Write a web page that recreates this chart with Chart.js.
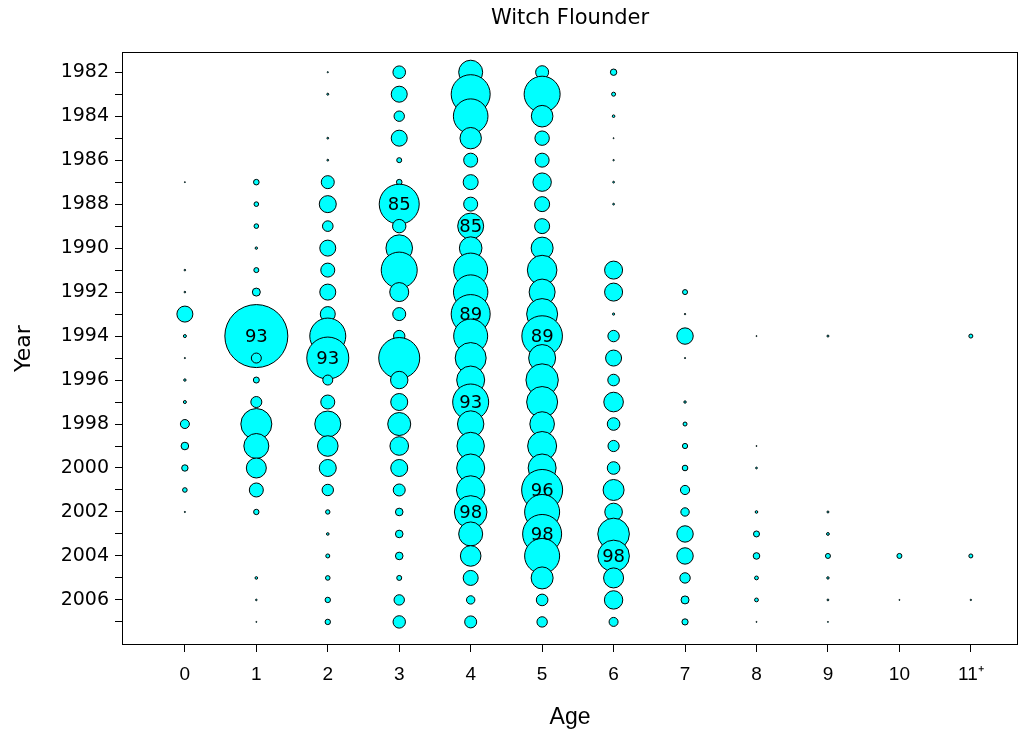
<!DOCTYPE html>
<html>
<head>
<meta charset="utf-8">
<title>Witch Flounder</title>
<script src="https://cdn.jsdelivr.net/npm/chart.js@4.4.1/dist/chart.umd.min.js"></script>
<style>
  html, body { margin: 0; padding: 0; background: #fff; }
  #wrap { width: 1029px; height: 735px; }
</style>
</head>
<body>
<div id="wrap"><canvas id="bubbleChart"></canvas></div>
<script>
// Witch Flounder - catch at age bubble plot

const years = [1982, 1983, 1984, 1985, 1986, 1987, 1988, 1989, 1990, 1991, 1992, 1993, 1994,
               1995, 1996, 1997, 1998, 1999, 2000, 2001, 2002, 2003, 2004, 2005, 2006, 2007];
const ages = [0, 1, 2, 3, 4, 5, 6, 7, 8, 9, 10, 11];
const ageLabels = ['0', '1', '2', '3', '4', '5', '6', '7', '8', '9', '10', '11\u207A'];
const yearLabels = years.map(y => (y % 2 === 0 ? String(y) : ''));

// bubble radius per age, one value per year (1982..2007), null = no bubble
const age0 = [null, null, null, null, null, 0.5, null, null, null, 0.8, 0.8, 8, 1.5,
              0.6, 1.2, 1.5, 4.5, 3.8, 3.2, 2.3, 0.6, null, null, null, null, null];
const age1 = [null, null, null, null, null, 2.8, 2.3, 2.3, 1.2, 2.5, 4, null, 31.5,
              5, 3, 5.5, 15.5, 12.5, 10, 7, 2.7, null, null, 1.3, 0.8, 0.5];
const age2 = [0.6, 1, null, 0.9, 0.9, 6.5, 8.5, 5.3, 8, 7, 8, 7.5, 18,
              21, 5, 7, 13, 10.3, 8.5, 5.7, 2.2, 1.3, 2, 2.3, 2.7, 2.7];
const age3 = [6.3, 8, 5.2, 8, 2.5, 2.8, 20, 6.7, 13.3, 18, 9.5, 6.5, 5.7,
              20.5, 8.7, 8.5, 11.5, 9.3, 8.5, 6, 3.8, 3.8, 3.8, 2.5, 5.2, 6.2];
const age4 = [12, 19.5, 17.3, 10.7, 7, 7.5, 7, 13, 11.3, 17, 17.2, 19.5, 17,
              15.5, 14, 18, 13.2, 13.7, 14, 14.2, 16.3, 12, 10.3, 7.5, 4.2, 6];
const age5 = [6.5, 18, 10.8, 7.2, 7, 9.2, 7.5, 7.5, 11, 14.8, 13, 15.5, 20.3,
              13.5, 16.2, 15.5, 12.3, 14.5, 14, 20.5, 17.5, 19.5, 17.5, 11, 5.8, 5.2];
const age6 = [3.2, 2, 1.3, 0.5, 0.7, 0.9, 0.9, null, null, 9, 9, 1.1, 5.7,
              8, 5.8, 9.8, 6.3, 5.6, 6.3, 10.5, 8.8, 15.8, 15.8, 10, 9.2, 4.5];
const age7 = [null, null, null, null, null, null, null, null, null, null, 2.5, 0.7, 8.2,
              0.6, null, 1.2, 2, 2.6, 2.8, 4.6, 4.2, 8.2, 8.2, 5.2, 4, 3.1];
const age8 = [null, null, null, null, null, null, null, null, null, null, null, null, 0.5,
              null, null, null, null, 0.5, 0.9, null, 1.3, 3, 3.3, 1.9, 1.9, 0.5];
const age9 = [null, null, null, null, null, null, null, null, null, null, null, null, 1,
              null, null, null, null, null, null, null, 1, 1.4, 2.5, 1.2, 0.9, 0.5];
const age10 = [null, null, null, null, null, null, null, null, null, null, null, null, null,
               null, null, null, null, null, null, null, null, null, 2.5, null, 0.5, null];
const age11 = [null, null, null, null, null, null, null, null, null, null, null, null, 2,
               null, null, null, null, null, null, null, null, null, 2, null, 0.7, null];
const radiusByAge = [age0, age1, age2, age3, age4, age5, age6, age7, age8, age9, age10, age11];

// cohort labels written inside bubbles: [age, year, text]
const cohortLabels = [
    [1, 1994, '93'], [2, 1995, '93'], [4, 1997, '93'],
    [3, 1988, '85'], [4, 1989, '85'],
    [4, 1993, '89'], [5, 1994, '89'],
    [5, 2001, '96'],
    [4, 2002, '98'], [5, 2003, '98'], [6, 2004, '98']
];

window.onload = function() {
    renderBubbles();
}

// build the points column by column, so later years draw on top
function buildPoints() {
    const points = [];
    ages.forEach((age, i) => {
        radiusByAge[i].forEach((r, j) => {
            if (r !== null) points.push({ x: age, y: years[j], r: r });
        });
    });
    return points;
}

// frame around the plot area
const framePlugin = {
    id: 'frame',
    afterDraw(chart) {
        const a = chart.chartArea;
        const ctx = chart.ctx;
        ctx.save();
        ctx.strokeStyle = '#000';
        ctx.lineWidth = 1;
        ctx.strokeRect(Math.round(a.left) + 0.5, Math.round(a.top) + 0.5,
                       Math.round(a.right - a.left) - 1, Math.round(a.bottom - a.top) - 1);
        ctx.restore();
    }
};

// year-class numbers inside some bubbles
const cohortPlugin = {
    id: 'cohorts',
    afterDatasetsDraw(chart) {
        const ctx = chart.ctx;
        const xs = chart.scales.x, ys = chart.scales.y;
        ctx.save();
        ctx.fillStyle = '#000';
        ctx.font = '18px "DejaVu Sans", sans-serif';
        ctx.textAlign = 'center';
        ctx.textBaseline = 'middle';
        cohortLabels.forEach(([age, year, text]) => {
            ctx.fillText(text, xs.getPixelForValue(age), ys.getPixelForValue(year) + 1);
        });
        ctx.restore();
    }
};

function renderBubbles() {
    Chart.defaults.color = '#000';
    // the big bubble would otherwise push the plot area in from the right
    const Bubble = Chart.BubbleController || Chart.registry.getController('bubble');
    Bubble.prototype.getMaxOverflow = function() { return false; };

    const ctx = document.getElementById('bubbleChart').getContext('2d');
    new Chart(ctx, {
        type: 'bubble',
        data: {
            datasets: [{
                data: buildPoints(),
                backgroundColor: '#00FFFF',
                borderColor: '#000000',
                borderWidth: 1,
                hoverRadius: 0
            }]
        },
        options: {
            responsive: true,
            maintainAspectRatio: false,
            animation: false,
            events: [],
            layout: { padding: { left: 0, top: 0, right: 11, bottom: 0 } },
            plugins: {
                legend: { display: false },
                tooltip: { enabled: false },
                title: {
                    display: true,
                    text: 'Witch Flounder',
                    fullSize: false,
                    color: '#000',
                    font: { family: '"DejaVu Sans", sans-serif', size: 21, weight: 'normal' },
                    padding: { top: 6, bottom: 21 }
                }
            },
            scales: {
                x: {
                    type: 'linear',
                    min: -0.88,
                    max: 11.66,
                    afterFit: scale => {
                        scale.height = 90;
                        scale.paddingLeft = 0;
                        scale.paddingRight = 0;
                    },
                    afterBuildTicks: scale => { scale.ticks = ages.map(v => ({ value: v })); },
                    ticks: {
                        padding: 11,
                        autoSkip: false,
                        maxRotation: 0,
                        font: { family: '"Liberation Sans", Arial, sans-serif', size: 19 },
                        callback: (v, i) => ageLabels[i]
                    },
                    grid: { display: true, drawOnChartArea: false, drawTicks: true, tickLength: 7, color: '#000' },
                    border: { display: false },
                    title: {
                        display: true,
                        text: 'Age',
                        font: { family: '"Liberation Sans", Arial, sans-serif', size: 23 },
                        padding: { top: 0, bottom: 4 }
                    }
                },
                y: {
                    type: 'linear',
                    reverse: true,
                    min: 1981.09,
                    max: 2008.05,
                    afterFit: scale => {
                        scale.width = 122;
                        scale.paddingTop = 0;
                        scale.paddingBottom = 0;
                    },
                    afterBuildTicks: scale => { scale.ticks = years.map(v => ({ value: v })); },
                    ticks: {
                        padding: 6,
                        autoSkip: false,
                        font: { family: '"DejaVu Sans", sans-serif', size: 19 },
                        callback: (v, i) => yearLabels[i]
                    },
                    grid: { display: true, drawOnChartArea: false, drawTicks: true, tickLength: 7, color: '#000' },
                    border: { display: false },
                    title: {
                        display: true,
                        text: 'Year',
                        font: { family: '"DejaVu Sans", sans-serif', size: 22 },
                        padding: { top: 11, bottom: 0 }
                    }
                }
            }
        },
        plugins: [framePlugin, cohortPlugin]
    });
}
</script>
</body>
</html>
